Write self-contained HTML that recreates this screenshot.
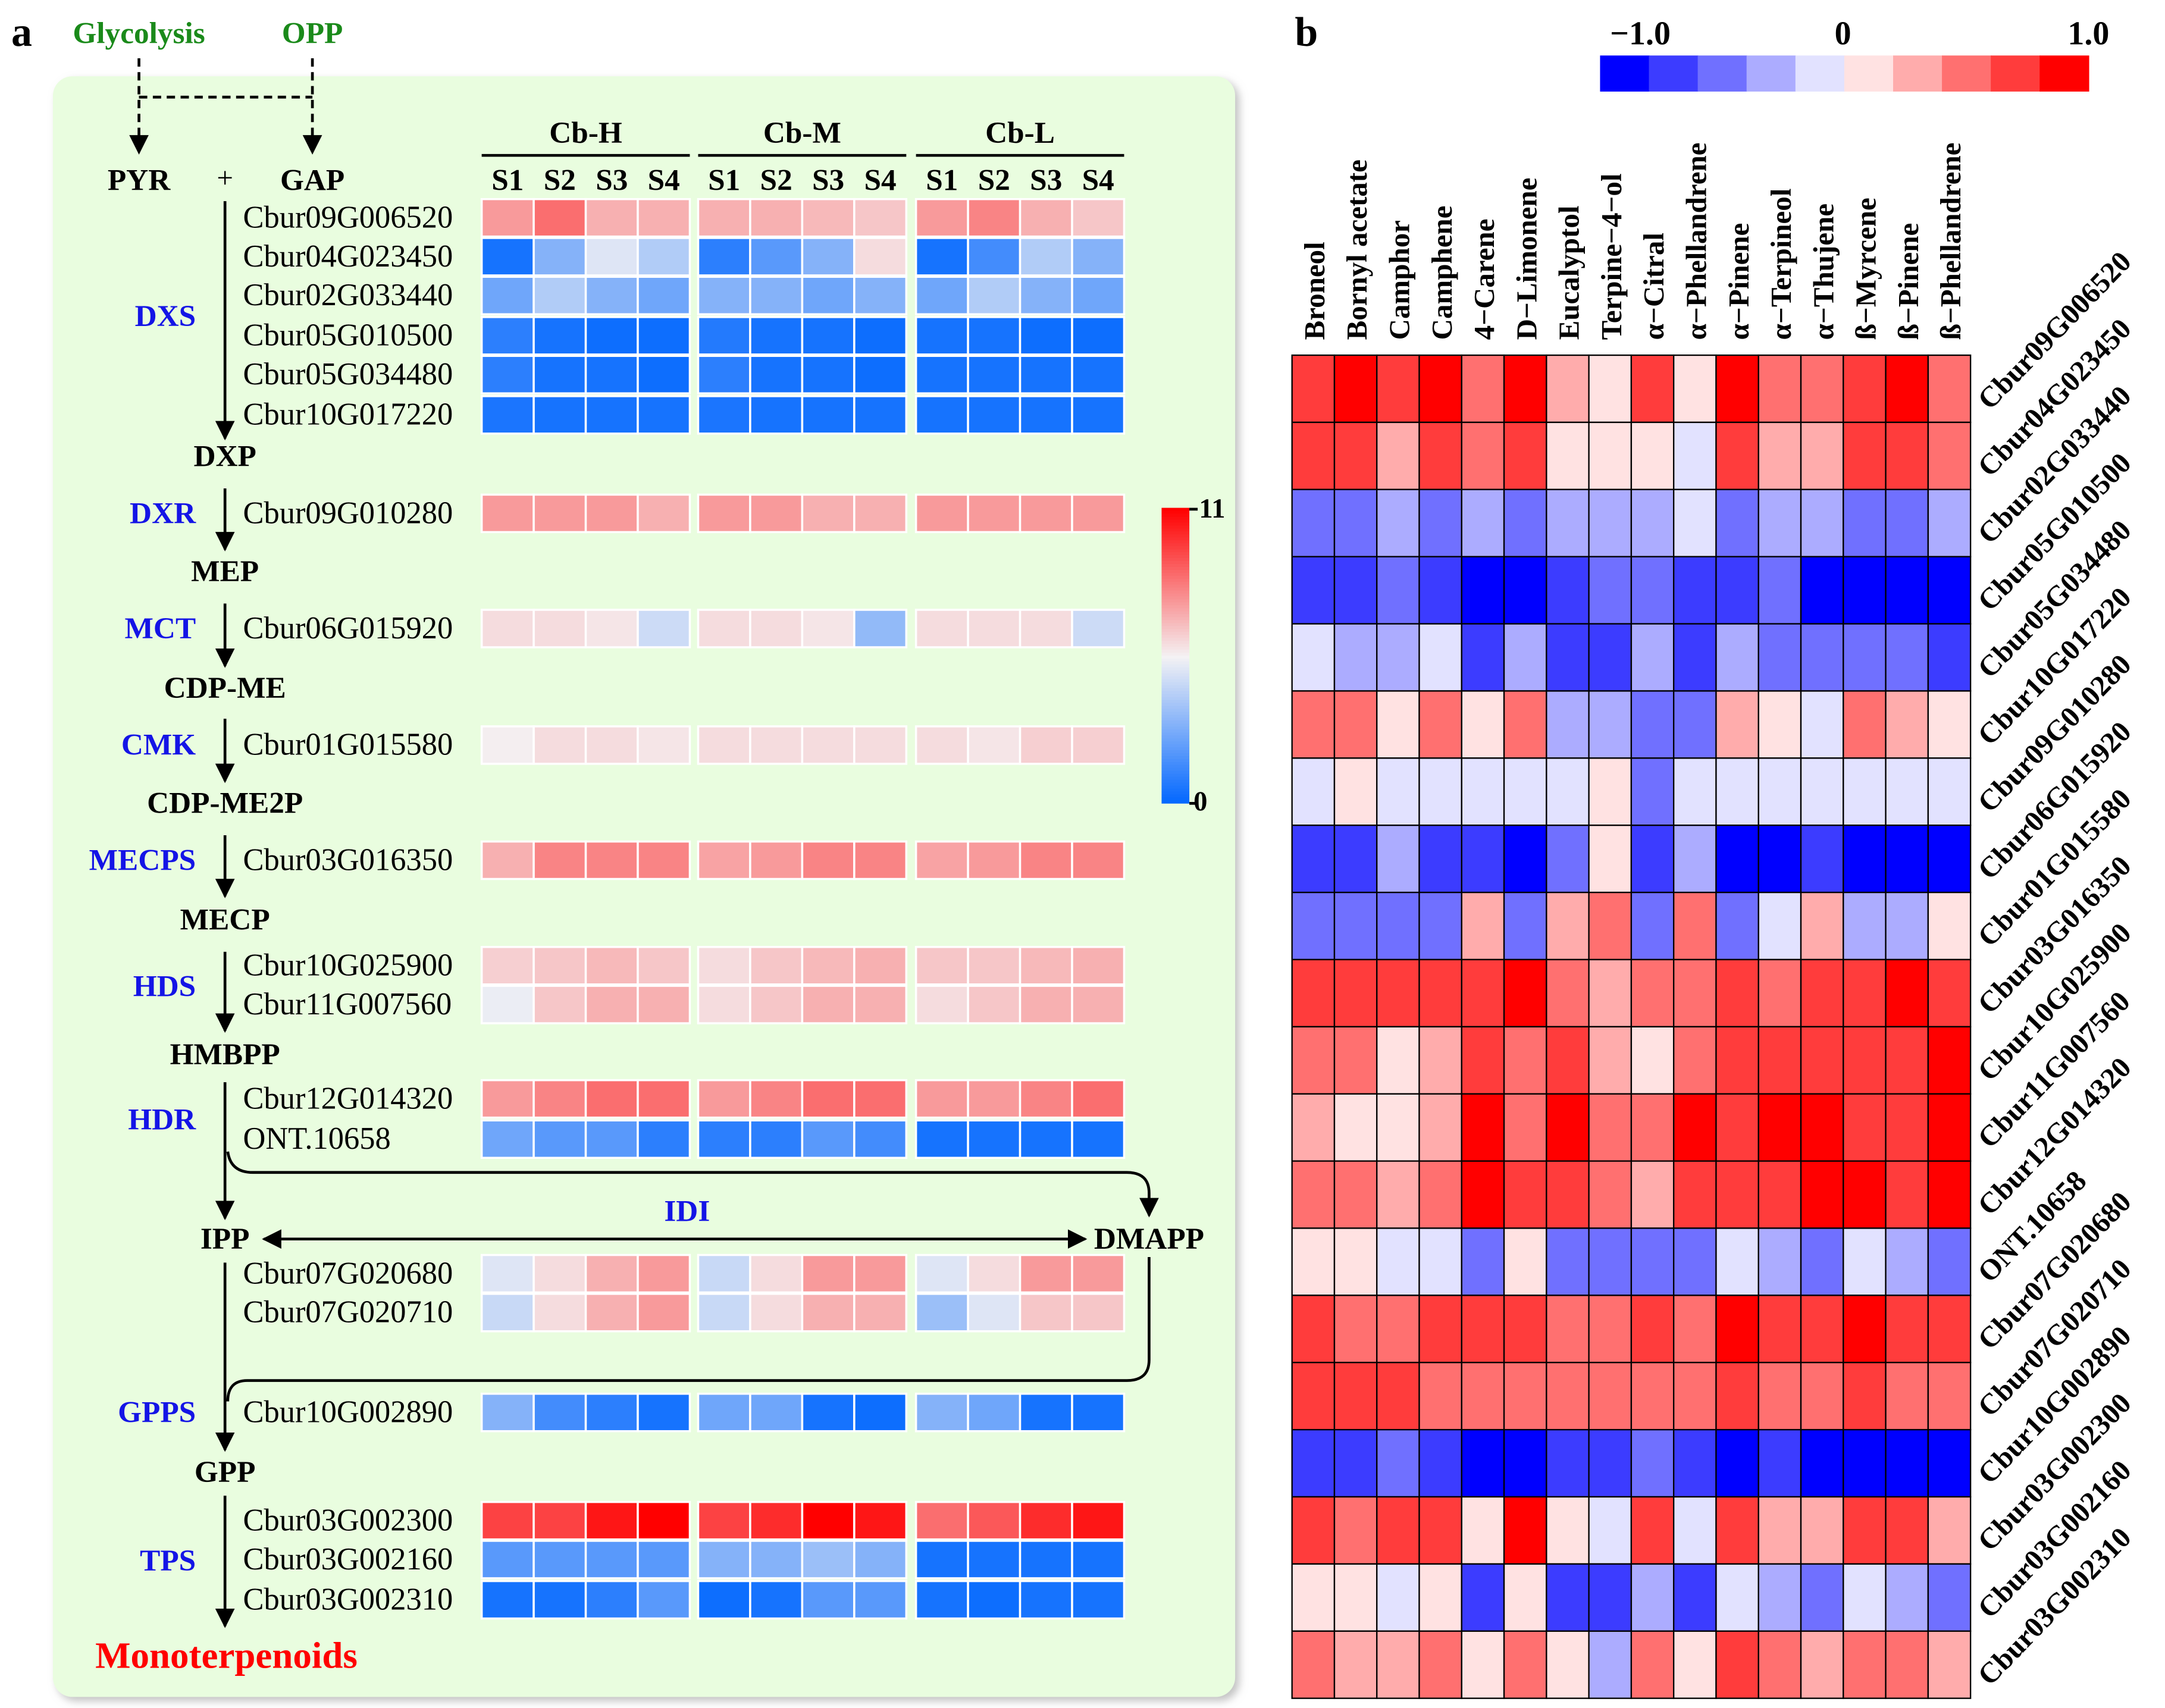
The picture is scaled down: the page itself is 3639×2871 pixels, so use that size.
<!DOCTYPE html>
<html><head><meta charset="utf-8">
<style>
html,body{margin:0;padding:0;background:#fff;}
svg{display:block;font-family:"Liberation Serif",serif;}
</style></head>
<body>
<svg id="fig" xmlns="http://www.w3.org/2000/svg" width="3639" height="2871" viewBox="0 0 1560 1231">
<defs>
<marker id="ah" viewBox="0 0 10 10" refX="9" refY="5" markerWidth="7" markerHeight="7" orient="auto-start-reverse"><path d="M0,0 L10,5 L0,10 z" fill="#000"/></marker>
<filter id="sh" x="-5%" y="-5%" width="110%" height="110%"><feDropShadow dx="3" dy="3" stdDeviation="3" flood-color="#999" flood-opacity="0.6"/></filter>
</defs>
<g id="pa"></g>
<g id="pb"></g>
</svg>
<script>
// ---------- Panel a data ----------
const aGroups = ["Cb-H","Cb-M","Cb-L"];
const aStages = ["S1","S2","S3","S4"];
const aGenes = ["Cbur09G006520","Cbur04G023450","Cbur02G033440","Cbur05G010500","Cbur05G034480","Cbur10G017220","Cbur09G010280","Cbur06G015920","Cbur01G015580","Cbur03G016350","Cbur10G025900","Cbur11G007560","Cbur12G014320","ONT.10658","Cbur07G020680","Cbur07G020710","Cbur10G002890","Cbur03G002300","Cbur03G002160","Cbur03G002310"];
const aRowY = [157,185,213,242,270,299,370,453,537,620,696,724,792,821,918,946,1018,1096,1124,1153];
const aValues = [
[7.5,8.5,7,7, 7,7,6.8,6.5, 7.5,8,7,6.5],
[0.5,3,5,4, 1,2,3,6, 0.5,1.5,4,3],
[2.5,4,3,2.5, 3,3,2.5,3, 2.5,4,3,2.5],
[1,0.5,0.3,0.3, 0.8,0.5,0.5,0.3, 0.5,0.5,0.3,0.3],
[1,0.5,0.5,0.3, 1,0.5,0.5,0.3, 0.5,0.5,0.5,0.5],
[0.6,0.5,0.5,0.5, 0.6,0.5,0.5,0.5, 0.5,0.5,0.5,0.5],
[7.5,7.5,7.5,7, 7.5,7.5,7,7, 7.5,7.5,7.5,7.5],
[6,6,5.8,4.6, 6,6,5.8,3.3, 6,6,6,4.6],
[5.6,6,6,5.8, 6,6,6,6, 6,5.8,6.3,6.3],
[7,8,8,8, 7.3,7.5,8,8, 7.3,7.5,8,8],
[6.3,6.5,6.8,6.5, 6,6.5,6.8,7, 6.5,6.5,6.8,7],
[5.3,6.5,7,7, 6,6.5,7,7, 6,6.5,7,7],
[7.5,8,8.5,8.5, 7.5,8,8.5,8.5, 7.5,7.5,8,8.5],
[2.5,2,2,1, 1,1,2,1.5, 0.5,0.5,0.5,0.5],
[5,6,7,7.5, 4.5,6,7.5,7.5, 5,6,7.5,7.5],
[4.5,6,7,7.5, 4.5,6,7,7, 3.5,5,6.5,6.5],
[3,1.5,1,0.5, 2.5,2.5,0.5,0.3, 3,2.5,0.5,0.5],
[9.5,9.5,10.5,11, 9.5,10,11,10.5, 8.5,9,10,10.5],
[2,2,2,2, 3,3,3.5,3, 0.5,0.5,0.5,0.5],
[0.5,0.5,1,2, 0.3,0.5,2,2, 0.5,0.3,0.5,0.5]
];
// ---------- Panel b data ----------
const bCompounds = ["Broneol","Bornyl acetate","Camphor","Camphene","4\u2212Carene","D\u2212Limonene","Eucalyptol","Terpine\u22124\u2212ol","\u03b1\u2212Citral","\u03b1\u2212Phellandrene","\u03b1\u2212Pinene","\u03b1\u2212Terpineol","\u03b1\u2212Thujene","\u00df\u2212Myrcene","\u00df\u2212Pinene","\u00df\u2212Phellandrene"];
const bGenes = aGenes;
const bValues = [
[.9,.95,.8,.95,.6,.95,.4,.15,.8,.15,.95,.6,.6,.9,.95,.6],
[.8,.8,.45,.8,.6,.8,.15,.15,.15,-.15,.8,.45,.45,.8,.8,.6],
[-.6,-.55,-.35,-.55,-.3,-.55,-.35,-.35,-.35,-.15,-.6,-.35,-.3,-.55,-.6,-.35],
[-.85,-.85,-.6,-.85,-.95,-.95,-.85,-.6,-.6,-.85,-.85,-.6,-.95,-.95,-.95,-.95],
[-.15,-.35,-.35,-.1,-.85,-.35,-.85,-.85,-.35,-.85,-.35,-.6,-.6,-.6,-.6,-.85],
[.6,.6,.15,.6,.1,.6,-.35,-.35,-.6,-.55,.35,.1,-.1,.6,.35,.1],
[-.15,.1,-.15,-.15,-.15,-.15,-.15,.1,-.6,-.15,-.15,-.15,-.15,-.15,-.15,-.15],
[-.85,-.85,-.35,-.85,-.85,-.95,-.6,.1,-.85,-.35,-.95,-.95,-.85,-.95,-.95,-.95],
[-.55,-.55,-.55,-.55,.35,-.55,.35,.6,-.55,.6,-.55,-.1,.35,-.35,-.35,.1],
[.85,.85,.85,.85,.85,.95,.6,.35,.6,.6,.9,.6,.8,.9,.95,.8],
[.6,.6,.15,.35,.85,.6,.85,.35,.15,.6,.85,.85,.85,.9,.9,.95],
[.35,.1,.15,.35,.95,.6,.95,.6,.6,.95,.85,.95,.95,.85,.85,.95],
[.6,.6,.35,.6,.95,.85,.85,.6,.35,.85,.85,.85,.95,.95,.9,.95],
[.1,.1,-.15,-.15,-.6,.1,-.6,-.6,-.6,-.6,-.15,-.35,-.6,-.15,-.35,-.6],
[.85,.6,.6,.85,.85,.85,.6,.6,.85,.6,.95,.85,.85,.95,.85,.85],
[.85,.85,.85,.6,.6,.6,.6,.6,.6,.6,.85,.6,.6,.85,.6,.6],
[-.85,-.85,-.6,-.85,-.95,-.95,-.85,-.85,-.6,-.85,-.95,-.85,-.95,-.95,-.95,-.95],
[.85,.6,.85,.85,.1,.95,.1,-.15,.85,-.15,.85,.35,.35,.85,.85,.35],
[.1,.1,-.15,.1,-.85,.1,-.85,-.85,-.35,-.85,-.15,-.35,-.6,-.15,-.35,-.6],
[.6,.35,.35,.6,.1,.6,.1,-.35,.6,.1,.85,.6,.35,.6,.6,.35]
];
const bLegendTicks = ["\u22121.0","0","1.0"];

const NS="http://www.w3.org/2000/svg";
function mk(parent,tag,attrs,txt){const e=document.createElementNS(NS,tag);for(const k in attrs)e.setAttribute(k,attrs[k]);if(txt!==undefined)e.textContent=txt;parent.appendChild(e);return e;}
function lerp(a,b,t){return Math.round(a+(b-a)*t);}
function mix(c1,c2,t){return `rgb(${lerp(c1[0],c2[0],t)},${lerp(c1[1],c2[1],t)},${lerp(c1[2],c2[2],t)})`;}
function colA(v){const m=5.5;const W=[244,242,244];if(v>=m)return mix(W,[255,0,0],(v-m)/m);return mix([0,102,255],W,v/m);}
const binCols=['#0000ff','#3c3cff','#7070ff','#acacff','#e2e2ff','#ffe2e2','#ffacac','#ff7070','#ff3c3c','#ff0000'];
function colB(v){const s=v*0.85;let i=Math.min(9,Math.max(0,Math.floor((s+1)*5+1e-6)));return binCols[i];}

// ---------- Panel a ----------
const pa=document.getElementById('pa');
let e;
e=mk(pa,'text',{x:8,y:33,'font-size':30,'font-weight':'bold'},'a');

e=mk(pa,'rect',{x:38,y:55,width:852,height:1168,rx:14,fill:'#e9fddf',filter:'url(#sh)'});

function T(x,y,s,o,name){const a=Object.assign({x:x,y:y,'font-size':21,'font-weight':'bold','text-anchor':'middle'},o||{});const t=mk(pa,'text',a,s);return t;}
T(100,31,'Glycolysis',{fill:'#1a8a1a','font-size':22},'glycolysis-label');
T(225,31,'OPP',{fill:'#1a8a1a','font-size':22},'opp-label');
function L(x1,y1,x2,y2,o,name){const a=Object.assign({x1:x1,y1:y1,x2:x2,y2:y2,stroke:'#000','stroke-width':2},o||{});const l=mk(pa,'line',a);return l;}
L(100,42,100,110,{'stroke-dasharray':'6,4','marker-end':'url(#ah)'},'glycolysis-arrow');
L(225,42,225,110,{'stroke-dasharray':'6,4','marker-end':'url(#ah)'},'opp-arrow');
L(100,70,225,70,{'stroke-dasharray':'6,4'},'dashed-link');
T(100,137,'PYR',{'font-size':22},'pyr-label');T(162,135,'+',{'font-weight':'normal'},'plus-sign');T(225,137,'GAP',{'font-size':22},'gap-label');
const inter=[['DXP',336],['MEP',419],['CDP-ME',503],['CDP-ME2P',586],['MECP',670],['HMBPP',767],['GPP',1068]];
inter.forEach(d=>T(162,d[1],d[0],{'font-size':22},'intermediate-'+d[0].toLowerCase()));
T(162,900,'IPP',{'font-size':22},'ipp-label');T(828,900,'DMAPP',{'font-size':22},'dmapp-label');
[[145,316],[352,396],[435,480],[518,563],[602,646],[686,743],[780,878],[910,1045],[1078,1172]].forEach((s,i)=>L(162,s[0],162,s[1],{'marker-end':'url(#ah)'},'pathway-arrow-'+i));
const enz=[['DXS',228],['DXR',370],['MCT',453],['CMK',537],['MECPS',620],['HDS',711],['HDR',807],['GPPS',1018],['TPS',1125]];
enz.forEach(d=>T(141,d[1]+7,d[0],{fill:'#1414e6','text-anchor':'end','font-size':22},'enzyme-'+d[0].toLowerCase()));
T(163,1202,'Monoterpenoids',{fill:'#ff0000','font-size':27},'product-label');
T(495,880,'IDI',{fill:'#1414e6','font-size':22},'idi-label');
L(190,893,782,893,{'marker-start':'url(#ah)','marker-end':'url(#ah)'},'idi-arrow');
e=mk(pa,'path',{d:'M164,830 Q166,845 182,845 L812,845 Q828,845 828,860 L828,876',fill:'none',stroke:'#000','stroke-width':2,'marker-end':'url(#ah)'});

e=mk(pa,'path',{d:'M828,906 L828,980 Q828,995 812,995 L178,995 Q164,995 164,1010',fill:'none',stroke:'#000','stroke-width':2});

const gx=[347,503,660], cw=37.5, ch=27;
aGroups.forEach((g,gi)=>{
  T(gx[gi]+75,103,g,{'font-size':22},'group-header-'+g.toLowerCase());
  L(gx[gi],112,gx[gi]+150,112,{},'group-underline-'+g.toLowerCase());
  aStages.forEach((s,si)=>T(gx[gi]+cw*si+cw/2,137,s,{'font-size':22},'stage-label-'+g.toLowerCase()+'-'+s.toLowerCase()));
});
aGenes.forEach((g,ri)=>{
  const y=aRowY[ri];
  const t=mk(pa,'text',{x:175,y:y+7,'font-size':22.5},g);
  
  
  aValues[ri].forEach((v,ci)=>{
    const gi=Math.floor(ci/4),si=ci%4;
    const r=mk(pa,'rect',{x:gx[gi]+cw*si,y:y-ch/2,width:cw,height:ch,fill:colA(v),stroke:'#fff','stroke-width':1.5});
    
    
  });
});
for(let i=0;i<100;i++){const v=11*(1-i/100);
  const r=mk(pa,'rect',{x:837,y:366+i*2.13,width:20,height:2.3,fill:colA(v)});
  
  
}
T(864,373,'11',{'text-anchor':'start','font-size':20},'colorbar-max');
T(860,584,'0',{'text-anchor':'start','font-size':20},'colorbar-min');
L(857,367,863,367,{},'colorbar-tick-max');L(857,579,863,579,{},'colorbar-tick-min');

// ---------- Panel b ----------
const pb=document.getElementById('pb');
function TB(x,y,s,o,name){const a=Object.assign({x:x,y:y,'font-size':21,'font-weight':'bold'},o||{});const t=mk(pb,'text',a,s);return t;}
TB(933,33,'b',{'font-size':30},'panel-b-label');
const lx0=1153,lw=35.2;
for(let i=0;i<10;i++){
  const r=mk(pb,'rect',{x:lx0+i*lw,y:40,width:lw+0.5,height:26,fill:binCols[i]});
  
  
}
TB(1182,32,bLegendTicks[0],{'text-anchor':'middle','font-size':24},'legend-tick-min');
TB(1328,32,bLegendTicks[1],{'text-anchor':'middle','font-size':24},'legend-tick-mid');
TB(1505,32,bLegendTicks[2],{'text-anchor':'middle','font-size':24},'legend-tick-max');
const bx0=931,by0=256,bw=(1420-931)/bCompounds.length,bh=(1224-256)/bGenes.length;
bValues.forEach((row,ri)=>row.forEach((v,ci)=>{
  const r=mk(pb,'rect',{x:bx0+ci*bw,y:by0+ri*bh,width:bw,height:bh,fill:colB(v),stroke:'#000','stroke-width':1});
  
  
}));
bCompounds.forEach((c,ci)=>{
  const x=bx0+ci*bw+bw/2+8, y=245;
  const t=mk(pb,'text',{x:x,y:y,'font-size':21,'font-weight':'bold',transform:`rotate(-90 ${x} ${y})`},c);
  
  
});
bGenes.forEach((g,ri)=>{
  const x=1434, y=by0+ri*bh+bh/2+16;
  const t=mk(pb,'text',{x:x,y:y,'font-size':21,'font-weight':'bold',transform:`rotate(-46 ${x} ${y})`},g);
  
  
});
</script>
</body></html>
